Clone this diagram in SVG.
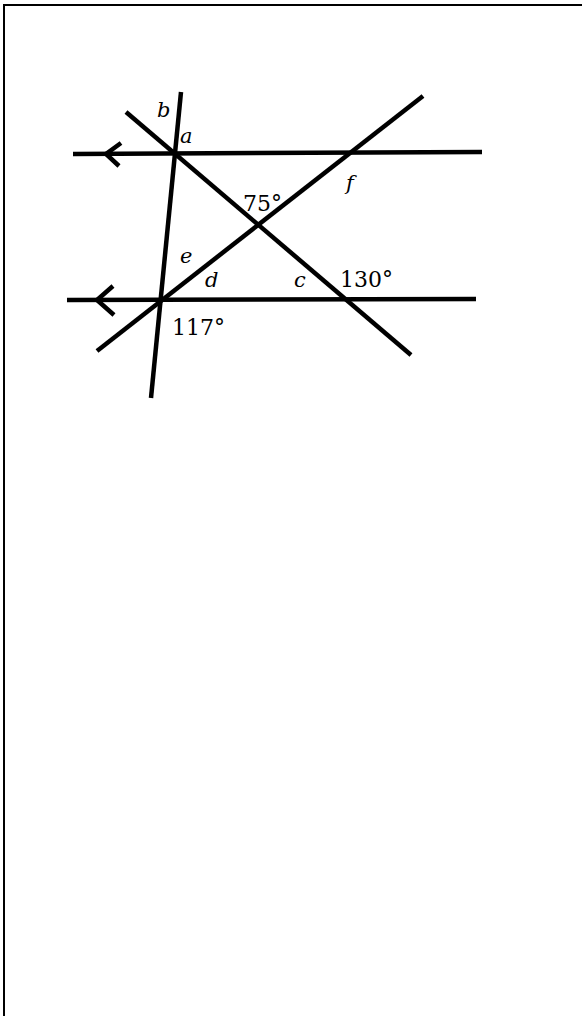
<svg xmlns="http://www.w3.org/2000/svg" width="582" height="1016" viewBox="0 0 582 1016">
<style>
.ln{stroke:#000;stroke-width:4.5;fill:none;stroke-linecap:butt}
.fr{stroke:#000;stroke-width:2;fill:none}
.lab{font-family:"DejaVu Serif","Liberation Serif",serif;font-size:21px;fill:#000;font-style:italic}
.deg{font-family:"DejaVu Serif","Liberation Serif",serif;font-size:22px;fill:#000}
</style>
<rect width="582" height="1016" fill="#fff"/>
<g id="frame">
<line class="fr" x1="4" y1="5" x2="582" y2="5"/>
<line class="fr" x1="4" y1="4" x2="4" y2="1016"/>
</g>
<g id="connectors">
<line class="ln" x1="73" y1="154" x2="482" y2="152"/>
<polyline class="ln" points="121,143 106,154 119,166"/>
<line class="ln" x1="67" y1="300" x2="476" y2="299"/>
<polyline class="ln" points="113,286 97,300 114,315"/>
<line class="ln" x1="181" y1="92" x2="151" y2="398"/>
<line class="ln" x1="126" y1="112" x2="411" y2="355"/>
<line class="ln" x1="97" y1="351" x2="423" y2="96"/>
</g>
<g id="labels">
<text class="lab" x="157" y="117">b</text>
<text class="lab" x="180" y="143">a</text>
<text class="deg" x="243" y="211">75°</text>
<text class="lab" x="346" y="190">f</text>
<text class="lab" x="180" y="263">e</text>
<text class="lab" x="205" y="287">d</text>
<text class="lab" x="294" y="287">c</text>
<text class="deg" x="340" y="287">130°</text>
<text class="deg" x="172" y="335">117°</text>
</g>
</svg>
